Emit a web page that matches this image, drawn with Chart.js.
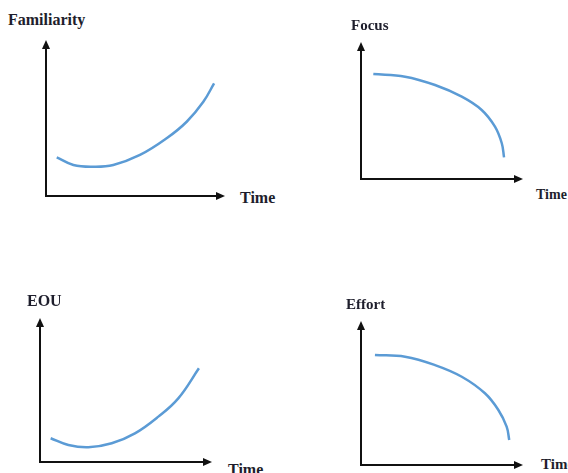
<!DOCTYPE html>
<html>
<head>
<meta charset="utf-8">
<script src="https://cdn.jsdelivr.net/npm/chart.js@4/dist/chart.umd.min.js"></script>
<style>
  html, body { margin: 0; padding: 0; background: #fff; width: 568px; height: 473px; overflow: hidden; }
  .wrap { position: absolute; }
  .lbl { position: absolute; font-family: "Liberation Serif", "DejaVu Serif", serif; font-weight: bold; color: #1e1e2c; white-space: nowrap; line-height: 1; }
</style>
</head>
<body>
<div id="root"></div>
<script>
// ---- data (x: time 0..100 along the axis, y: level 0..100 up the axis) ----
const panelTitles = ["Familiarity", "Focus", "EOU", "Effort"];
const xAxisLabel = "Time";

const familiarityTime  = [6.0, 15.3, 26.4, 37.6, 52.5, 67.4, 78.6, 87.9, 93.9];
const familiarityLevel = [24.8, 19.9, 18.8, 19.9, 26.3, 37.0, 47.6, 60.4, 72.2];

const focusTime  = [7.6, 27.2, 45.7, 62.2, 74.5, 82.7, 86.9, 88.3];
const focusLevel = [76.6, 74.7, 68.6, 60.1, 50.4, 38.2, 26.1, 15.8];

const eouTime  = [6.2, 16.5, 28.1, 41.7, 55.2, 68.8, 80.4, 92.4];
const eouLevel = [16.5, 11.8, 10.2, 13.0, 19.9, 31.5, 44.2, 65.1];

const effortTime  = [8.6, 27.2, 45.7, 62.2, 76.5, 84.8, 89.9, 91.5];
const effortLevel = [76.4, 75.2, 69.4, 61.3, 49.8, 38.2, 26.6, 17.4];

// ---- layout (plot area boxes in page pixels) ----
const PAD = 10;
const panels = [
  { title: panelTitles[0], t: familiarityTime, v: familiarityLevel,
    box: { l: 46, r: 225, t: 40, b: 196 },
    titlePos: { x: 8, y: 12, s: 16 }, timePos: { x: 240, y: 190, s: 16 } },
  { title: panelTitles[1], t: focusTime, v: focusLevel,
    box: { l: 361, r: 523, t: 42, b: 179 },
    titlePos: { x: 351, y: 18, s: 15 }, timePos: { x: 536, y: 188, s: 14 } },
  { title: panelTitles[2], t: eouTime, v: eouLevel,
    box: { l: 40, r: 212, t: 318, b: 462 },
    titlePos: { x: 27, y: 293, s: 16 }, timePos: { x: 228, y: 462, s: 16 } },
  { title: panelTitles[3], t: effortTime, v: effortLevel,
    box: { l: 361, r: 523, t: 321, b: 465 },
    titlePos: { x: 346, y: 297, s: 15 }, timePos: { x: 541, y: 457, s: 15 } }
];

const axesArrows = {
  id: 'axesArrows',
  beforeDatasetsDraw(chart) {
    const { ctx, chartArea: a } = chart;
    ctx.save();
    ctx.strokeStyle = '#111';
    ctx.fillStyle = '#111';
    ctx.lineWidth = 2;
    ctx.beginPath();
    ctx.moveTo(a.left, a.top + 6);
    ctx.lineTo(a.left, a.bottom);
    ctx.lineTo(a.right - 6, a.bottom);
    ctx.stroke();
    // up arrow
    ctx.beginPath();
    ctx.moveTo(a.left, a.top);
    ctx.lineTo(a.left - 4, a.top + 9);
    ctx.lineTo(a.left + 4, a.top + 9);
    ctx.closePath();
    ctx.fill();
    // right arrow
    ctx.beginPath();
    ctx.moveTo(a.right, a.bottom);
    ctx.lineTo(a.right - 9, a.bottom - 4);
    ctx.lineTo(a.right - 9, a.bottom + 4);
    ctx.closePath();
    ctx.fill();
    ctx.restore();
  }
};

const root = document.getElementById('root');
panels.forEach((p) => {
  const w = (p.box.r - p.box.l) + 2 * PAD;
  const h = (p.box.b - p.box.t) + 2 * PAD;
  const div = document.createElement('div');
  div.className = 'wrap';
  div.style.left = (p.box.l - PAD) + 'px';
  div.style.top = (p.box.t - PAD) + 'px';
  div.style.width = w + 'px';
  div.style.height = h + 'px';
  const cv = document.createElement('canvas');
  div.appendChild(cv);
  root.appendChild(div);

  new Chart(cv, {
    type: 'line',
    data: {
      datasets: [{
        label: p.title,
        data: p.t.map((x, i) => ({ x: x, y: p.v[i] })),
        borderColor: '#5b9bd5',
        borderWidth: 2.5,
        pointRadius: 0,
        fill: false,
        tension: 0.4,
        clip: false
      }]
    },
    options: {
      responsive: true,
      maintainAspectRatio: false,
      animation: false,
      layout: { padding: PAD },
      plugins: { legend: { display: false }, tooltip: { enabled: false }, title: { display: false } },
      scales: {
        x: { type: 'linear', min: 0, max: 100, display: false },
        y: { type: 'linear', min: 0, max: 100, display: false }
      }
    },
    plugins: [axesArrows]
  });

  const t = document.createElement('div');
  t.className = 'lbl';
  t.textContent = p.title;
  t.style.left = p.titlePos.x + 'px';
  t.style.top = p.titlePos.y + 'px';
  t.style.fontSize = p.titlePos.s + 'px';
  root.appendChild(t);

  const tm = document.createElement('div');
  tm.className = 'lbl';
  tm.textContent = xAxisLabel;
  tm.style.left = p.timePos.x + 'px';
  tm.style.top = p.timePos.y + 'px';
  tm.style.fontSize = p.timePos.s + 'px';
  root.appendChild(tm);
});
</script>
</body>
</html>
